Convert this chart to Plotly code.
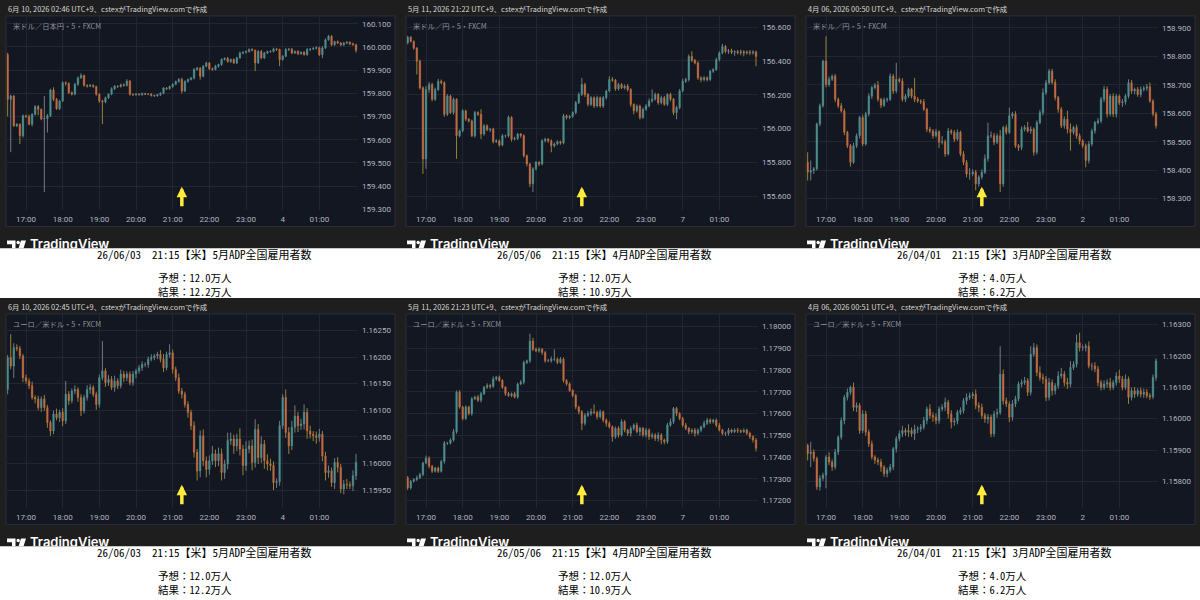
import math
import pandas as pd
import plotly.graph_objects as go

# ---------------- data ----------------
# 5-minute candles, first bar at 16:30 JST on each event day.
# close prices; wick lengths beyond the body (JPY in 0.001, EUR in 0.00001)

usdjpy_jun_start = "2026-06-03 16:30"
usdjpy_jun_open0 = 159.967
usdjpy_jun_close = [
    159.774, 159.789, 159.660, 159.667, 159.617, 159.703, 159.700, 159.667, 159.710, 159.743,
    159.731, 159.689, 159.691, 159.703, 159.814, 159.774, 159.734, 159.767, 159.846, 159.843,
    159.803, 159.796, 159.839, 159.867, 159.877, 159.834, 159.831, 159.834, 159.829, 159.796,
    159.767, 159.763, 159.781, 159.796, 159.820, 159.831, 159.829, 159.837, 159.834, 159.853,
    159.796, 159.794, 159.797, 159.794, 159.799, 159.796, 159.797, 159.791, 159.789, 159.794,
    159.800, 159.823, 159.820, 159.829, 159.839, 159.851, 159.860, 159.810, 159.851, 159.860,
    159.866, 159.903, 159.909, 159.874, 159.917, 159.931, 159.906, 159.903, 159.917, 159.924,
    159.946, 159.951, 159.937, 159.946, 159.931, 159.953, 159.974, 159.977, 159.980, 159.989,
    159.986, 159.931, 159.981, 159.953, 159.974, 159.980, 159.981, 159.991, 159.989, 159.946,
    159.960, 159.989, 159.991, 159.974, 159.981, 159.971, 159.977, 159.967, 159.989, 159.991,
    159.994, 159.997, 159.967, 159.996, 160.031, 160.046, 160.010, 160.023, 160.017, 160.009,
    160.017, 160.020, 160.014, 160.010, 159.986]
usdjpy_jun_upper = [
    8, 5, 3, 4, 3, 6, 5, 8, 4, 6,
    6, 4, 98, 8, 6, 12, 6, 5, 6, 5,
    4, 5, 6, 5, 10, 4, 5, 6, 5, 4,
    5, 6, 5, 4, 6, 5, 4, 5, 6, 8,
    5, 4, 3, 3, 4, 3, 3, 4, 3, 4,
    5, 4, 4, 5, 5, 4, 6, 8, 5, 4,
    5, 6, 5, 4, 5, 6, 4, 5, 6, 4,
    5, 4, 6, 4, 5, 5, 6, 4, 5, 5,
    6, 3, 5, 6, 5, 4, 5, 6, 5, 4,
    5, 6, 4, 5, 4, 5, 4, 5, 6, 4,
    5, 6, 4, 8, 6, 6, 5, 4, 5, 4,
    5, 6, 4, 5, 4]
usdjpy_jun_lower = [
    74, 228, 5, 6, 36, 8, 6, 5, 10, 6,
    25, 5, 315, 60, 5, 8, 5, 6, 5, 10,
    6, 5, 4, 6, 5, 5, 6, 4, 5, 6,
    8, 96, 6, 5, 4, 6, 5, 4, 5, 4,
    6, 5, 4, 3, 4, 3, 4, 5, 4, 3,
    6, 4, 5, 4, 5, 4, 5, 10, 4, 5,
    4, 6, 5, 15, 5, 4, 6, 5, 4, 6,
    5, 4, 5, 6, 4, 5, 4, 6, 5, 4,
    5, 35, 4, 6, 5, 4, 5, 4, 6, 29,
    5, 4, 6, 5, 4, 6, 5, 4, 5, 6,
    4, 5, 6, 15, 5, 4, 6, 5, 4, 5,
    4, 5, 6, 4, 10]

usdjpy_may_start = "2026-05-06 16:30"
usdjpy_may_open0 = 156.506
usdjpy_may_close = [
    156.541, 156.516, 156.476, 156.398, 156.241, 155.820, 156.231, 156.261, 156.173, 156.231,
    156.280, 156.271, 156.084, 156.192, 156.094, 156.173, 155.957, 155.986, 156.104, 156.055,
    156.045, 155.957, 156.094, 156.084, 155.967, 156.016, 155.992, 155.996, 155.922, 155.927,
    155.902, 155.957, 155.957, 156.065, 155.937, 155.941, 155.967, 155.957, 155.839, 155.790,
    155.673, 155.761, 155.800, 155.790, 155.927, 155.937, 155.927, 155.898, 155.908, 155.922,
    155.914, 156.075, 156.065, 156.071, 156.094, 156.153, 156.202, 156.261, 156.202, 156.143,
    156.182, 156.133, 156.182, 156.133, 156.182, 156.222, 156.290, 156.286, 156.235, 156.261,
    156.241, 156.251, 156.231, 156.143, 156.104, 156.133, 156.065, 156.114, 156.133, 156.163,
    156.173, 156.202, 156.153, 156.182, 156.143, 156.202, 156.173, 156.094, 156.124, 156.222,
    156.280, 156.290, 156.427, 156.404, 156.388, 156.300, 156.290, 156.300, 156.290, 156.339,
    156.349, 156.408, 156.447, 156.486, 156.457, 156.461, 156.451, 156.455, 156.449, 156.455,
    156.447, 156.453, 156.449, 156.453, 156.427]
usdjpy_may_upper = [
    8, 6, 5, 6, 10, 8, 20, 15, 10, 12,
    14, 10, 8, 12, 8, 10, 6, 8, 12, 8,
    6, 8, 10, 8, 30, 10, 8, 6, 8, 10,
    8, 10, 6, 12, 8, 10, 8, 6, 8, 6,
    6, 10, 8, 6, 10, 8, 6, 8, 10, 8,
    6, 12, 8, 10, 8, 10, 12, 39, 10, 8,
    10, 8, 12, 8, 10, 8, 20, 15, 8, 10,
    8, 10, 12, 8, 6, 10, 8, 10, 12, 15,
    58, 10, 8, 12, 10, 8, 10, 8, 10, 12,
    15, 10, 12, 30, 8, 10, 8, 10, 8, 10,
    8, 12, 10, 15, 8, 10, 12, 8, 10, 12,
    8, 10, 12, 10, 8]
usdjpy_may_lower = [
    8, 6, 10, 78, 10, 89, 59, 20, 12, 10,
    8, 10, 15, 10, 8, 12, 137, 10, 8, 12,
    10, 8, 12, 10, 30, 10, 8, 12, 10, 8,
    10, 8, 12, 10, 15, 8, 10, 12, 10, 15,
    20, 49, 10, 12, 8, 10, 12, 39, 10, 8,
    10, 8, 12, 10, 8, 10, 8, 10, 15, 12,
    10, 12, 8, 10, 12, 10, 8, 10, 12, 10,
    8, 10, 12, 15, 20, 10, 12, 8, 10, 8,
    10, 8, 12, 10, 8, 10, 12, 15, 39, 10,
    8, 10, 12, 10, 8, 12, 15, 10, 12, 8,
    10, 8, 10, 8, 12, 15, 10, 20, 10, 15,
    20, 10, 15, 12, 58]

usdjpy_apr_start = "2026-04-01 16:30"
usdjpy_apr_open0 = 158.428
usdjpy_apr_close = [
    158.393, 158.399, 158.405, 158.562, 158.626, 158.783, 158.701, 158.719, 158.730, 158.649,
    158.626, 158.608, 158.533, 158.486, 158.428, 158.486, 158.521, 158.585, 158.492, 158.597,
    158.660, 158.690, 158.698, 158.649, 158.628, 158.647, 158.649, 158.730, 158.678, 158.719,
    158.713, 158.649, 158.660, 158.684, 158.660, 158.649, 158.643, 158.640, 158.614, 158.544,
    158.538, 158.521, 158.535, 158.498, 158.500, 158.457, 158.538, 158.533, 158.509, 158.533,
    158.457, 158.428, 158.387, 158.387, 158.393, 158.352, 158.376, 158.393, 158.440, 158.521,
    158.521, 158.498, 158.521, 158.352, 158.550, 158.533, 158.591, 158.597, 158.486, 158.480,
    158.544, 158.550, 158.538, 158.544, 158.463, 158.567, 158.602, 158.672, 158.707, 158.748,
    158.709, 158.655, 158.614, 158.556, 158.579, 158.544, 158.533, 158.550, 158.521, 158.503,
    158.486, 158.434, 158.492, 158.538, 158.567, 158.573, 158.649, 158.684, 158.597, 158.660,
    158.597, 158.660, 158.637, 158.640, 158.660, 158.707, 158.678, 158.684, 158.666, 158.684,
    158.688, 158.693, 158.643, 158.597, 158.556]
usdjpy_apr_upper = [
    35, 35, 6, 5, 8, 5, 87, 10, 6, 8,
    6, 10, 8, 5, 6, 10, 8, 6, 10, 8,
    10, 6, 8, 15, 5, 8, 6, 10, 8, 58,
    6, 10, 8, 6, 5, 64, 8, 6, 10, 5,
    8, 6, 10, 5, 20, 8, 10, 6, 8, 10,
    6, 10, 8, 20, 10, 8, 6, 10, 15, 46,
    15, 10, 8, 20, 6, 10, 29, 8, 10, 6,
    10, 8, 20, 10, 6, 8, 10, 15, 10, 8,
    8, 10, 6, 8, 10, 30, 20, 6, 10, 8,
    6, 8, 10, 8, 6, 10, 8, 12, 10, 8,
    10, 8, 6, 10, 8, 12, 10, 6, 8, 10,
    8, 10, 15, 6, 8]
usdjpy_apr_lower = [
    29, 29, 12, 6, 8, 6, 10, 8, 6, 10,
    8, 6, 10, 8, 15, 6, 8, 10, 8, 6,
    8, 10, 6, 8, 10, 6, 8, 6, 10, 8,
    6, 8, 10, 6, 8, 10, 6, 8, 6, 10,
    8, 10, 6, 20, 8, 10, 6, 8, 10, 6,
    8, 10, 12, 20, 8, 23, 10, 8, 6, 10,
    8, 10, 6, 29, 10, 8, 6, 10, 8, 12,
    10, 8, 6, 10, 12, 8, 6, 10, 8, 6,
    8, 10, 12, 8, 10, 15, 64, 8, 10, 12,
    8, 24, 10, 8, 10, 6, 8, 10, 12, 8,
    10, 12, 8, 15, 10, 8, 10, 12, 8, 10,
    8, 10, 6, 8, 10]

eurusd_jun_start = "2026-06-03 16:30"
eurusd_jun_open0 = 1.16139
eurusd_jun_close = [
    1.16199, 1.16183, 1.16218, 1.16216, 1.16202, 1.16161, 1.16155, 1.16146, 1.16124, 1.16121,
    1.16105, 1.16121, 1.16105, 1.16077, 1.16061, 1.16093, 1.16086, 1.16096, 1.16080, 1.16130,
    1.16118, 1.16136, 1.16139, 1.16124, 1.16099, 1.16124, 1.16139, 1.16143, 1.16130, 1.16111,
    1.16161, 1.16174, 1.16152, 1.16158, 1.16143, 1.16155, 1.16146, 1.16168, 1.16161, 1.16168,
    1.16152, 1.16168, 1.16174, 1.16180, 1.16186, 1.16186, 1.16196, 1.16199, 1.16202, 1.16205,
    1.16196, 1.16180, 1.16205, 1.16208, 1.16177, 1.16161, 1.16136, 1.16130, 1.16111, 1.16096,
    1.16071, 1.16021, 1.15986, 1.16052, 1.16005, 1.15989, 1.16005, 1.16018, 1.16005, 1.16018,
    1.15983, 1.15999, 1.16043, 1.16046, 1.16033, 1.16046, 1.16027, 1.15996, 1.16027, 1.16033,
    1.16002, 1.16064, 1.16011, 1.16036, 1.16005, 1.15999, 1.15996, 1.15964, 1.15966, 1.16071,
    1.16124, 1.16058, 1.16033, 1.16068, 1.16089, 1.16071, 1.16074, 1.16096, 1.16061, 1.16055,
    1.16052, 1.16049, 1.16055, 1.16014, 1.15983, 1.15986, 1.15964, 1.16002, 1.15993, 1.15952,
    1.15961, 1.15960, 1.15958, 1.15977, 1.16002]
eurusd_jun_upper = [
    5, 44, 8, 6, 5, 4, 6, 5, 8, 4,
    6, 5, 8, 5, 4, 6, 10, 5, 8, 25,
    6, 5, 8, 4, 6, 5, 8, 6, 4, 5,
    6, 56, 5, 8, 6, 10, 5, 8, 6, 5,
    5, 6, 4, 5, 6, 4, 5, 6, 4, 5,
    8, 10, 5, 16, 6, 5, 8, 6, 5, 6,
    5, 8, 6, 10, 12, 8, 10, 15, 8, 12,
    10, 8, 15, 12, 8, 10, 20, 8, 15, 10,
    12, 19, 10, 15, 8, 12, 10, 8, 6, 9,
    6, 15, 10, 12, 20, 8, 10, 15, 8, 10,
    6, 8, 10, 6, 8, 10, 6, 8, 10, 6,
    8, 10, 6, 10, 16]
eurusd_jun_lower = [
    9, 6, 22, 5, 6, 8, 5, 6, 4, 8,
    5, 8, 6, 10, 9, 6, 5, 8, 10, 6,
    8, 5, 6, 8, 10, 5, 6, 8, 5, 10,
    6, 5, 8, 6, 5, 8, 6, 5, 8, 6,
    5, 6, 8, 5, 6, 5, 6, 4, 5, 6,
    6, 8, 5, 6, 8, 6, 5, 8, 6, 10,
    8, 10, 18, 12, 10, 15, 10, 8, 12, 10,
    15, 12, 10, 8, 15, 10, 12, 18, 10, 8,
    15, 10, 12, 10, 15, 12, 10, 14, 10, 8,
    6, 10, 15, 8, 10, 12, 8, 10, 15, 8,
    10, 12, 8, 10, 15, 10, 8, 12, 10, 8,
    10, 8, 6, 10, 8]

eurusd_may_start = "2026-05-06 16:30"
eurusd_may_open0 = 1.17305
eurusd_may_close = [
    1.17259, 1.17289, 1.17297, 1.17305, 1.17320, 1.17373, 1.17395, 1.17358, 1.17335, 1.17350,
    1.17335, 1.17380, 1.17464, 1.17464, 1.17479, 1.17517, 1.17698, 1.17630, 1.17577, 1.17630,
    1.17600, 1.17668, 1.17676, 1.17661, 1.17691, 1.17721, 1.17729, 1.17724, 1.17759, 1.17767,
    1.17752, 1.17721, 1.17691, 1.17683, 1.17691, 1.17676, 1.17736, 1.17744, 1.17835, 1.17842,
    1.17933, 1.17895, 1.17888, 1.17895, 1.17880, 1.17842, 1.17842, 1.17850, 1.17850, 1.17835,
    1.17850, 1.17752, 1.17736, 1.17706, 1.17683, 1.17630, 1.17608, 1.17555, 1.17592, 1.17600,
    1.17608, 1.17605, 1.17585, 1.17608, 1.17570, 1.17555, 1.17539, 1.17494, 1.17532, 1.17502,
    1.17562, 1.17524, 1.17509, 1.17532, 1.17547, 1.17517, 1.17532, 1.17502, 1.17524, 1.17494,
    1.17502, 1.17486, 1.17502, 1.17479, 1.17471, 1.17547, 1.17562, 1.17623, 1.17600, 1.17577,
    1.17547, 1.17532, 1.17517, 1.17524, 1.17509, 1.17524, 1.17539, 1.17555, 1.17570, 1.17562,
    1.17570, 1.17547, 1.17524, 1.17509, 1.17509, 1.17524, 1.17517, 1.17524, 1.17521, 1.17517,
    1.17524, 1.17509, 1.17494, 1.17479, 1.17441]
eurusd_may_upper = [
    8, 6, 5, 10, 8, 6, 12, 8, 6, 5,
    6, 8, 10, 6, 8, 12, 8, 10, 6, 8,
    6, 8, 6, 10, 8, 6, 10, 8, 12, 6,
    8, 6, 5, 8, 6, 8, 6, 10, 8, 6,
    34, 15, 8, 10, 6, 8, 10, 12, 45, 8,
    10, 8, 6, 8, 6, 8, 6, 8, 10, 12,
    15, 34, 8, 10, 6, 8, 10, 6, 8, 10,
    12, 8, 6, 10, 8, 12, 8, 6, 10, 8,
    10, 8, 12, 8, 6, 10, 15, 7, 8, 6,
    8, 10, 6, 8, 10, 8, 6, 12, 10, 8,
    6, 8, 10, 6, 8, 10, 6, 8, 10, 6,
    8, 6, 8, 6, 8]
eurusd_may_lower = [
    10, 8, 6, 8, 6, 8, 6, 10, 8, 6,
    8, 6, 10, 8, 6, 8, 10, 8, 8, 6,
    8, 10, 6, 8, 10, 6, 8, 10, 6, 8,
    6, 8, 10, 6, 8, 6, 8, 6, 10, 8,
    10, 8, 6, 8, 10, 8, 6, 8, 10, 8,
    6, 10, 8, 6, 8, 10, 12, 31, 10, 8,
    10, 8, 12, 8, 10, 15, 8, 23, 10, 12,
    8, 10, 12, 15, 10, 8, 20, 10, 12, 15,
    10, 12, 15, 20, 12, 10, 8, 10, 12, 8,
    10, 8, 12, 10, 15, 8, 10, 6, 8, 10,
    8, 10, 6, 8, 12, 10, 8, 6, 10, 8,
    6, 8, 10, 12, 15]

eurusd_apr_start = "2026-04-01 16:30"
eurusd_apr_open0 = 1.15915
eurusd_apr_close = [
    1.15889, 1.15894, 1.15873, 1.15783, 1.15810, 1.15820, 1.15878, 1.15862, 1.15846, 1.15894,
    1.15941, 1.15994, 1.16068, 1.16084, 1.16100, 1.16036, 1.16042, 1.15962, 1.16015, 1.15957,
    1.15920, 1.15878, 1.15868, 1.15862, 1.15846, 1.15825, 1.15836, 1.15846, 1.15904, 1.15936,
    1.15952, 1.15962, 1.15957, 1.15962, 1.15952, 1.15966, 1.15968, 1.15973, 1.15994, 1.16031,
    1.16010, 1.16005, 1.15994, 1.16031, 1.16036, 1.16052, 1.16015, 1.15989, 1.15992, 1.16020,
    1.16026, 1.16057, 1.16068, 1.16073, 1.16078, 1.16042, 1.16036, 1.16010, 1.15999, 1.16005,
    1.15952, 1.16015, 1.16020, 1.16142, 1.16057, 1.16047, 1.16005, 1.16047, 1.16063, 1.16110,
    1.16115, 1.16121, 1.16084, 1.16205, 1.16226, 1.16147, 1.16131, 1.16126, 1.16068, 1.16115,
    1.16089, 1.16105, 1.16136, 1.16142, 1.16115, 1.16110, 1.16163, 1.16173, 1.16242, 1.16226,
    1.16226, 1.16231, 1.16168, 1.16168, 1.16158, 1.16115, 1.16100, 1.16110, 1.16115, 1.16100,
    1.16115, 1.16136, 1.16126, 1.16100, 1.16126, 1.16068, 1.16089, 1.16078, 1.16089, 1.16078,
    1.16084, 1.16073, 1.16070, 1.16131, 1.16184]
eurusd_apr_upper = [
    5, 32, 8, 6, 10, 8, 6, 15, 8, 10,
    6, 10, 8, 12, 5, 15, 10, 8, 12, 10,
    8, 10, 6, 8, 10, 6, 8, 10, 6, 8,
    10, 15, 8, 20, 10, 15, 8, 10, 12, 8,
    15, 10, 12, 8, 10, 15, 8, 12, 10, 8,
    10, 8, 12, 10, 8, 15, 10, 12, 8, 10,
    8, 10, 12, 89, 15, 10, 8, 12, 10, 8,
    10, 12, 8, 26, 15, 10, 20, 12, 10, 15,
    10, 8, 15, 20, 10, 15, 20, 10, 26, 32,
    10, 8, 15, 10, 12, 10, 8, 12, 10, 15,
    8, 12, 20, 10, 15, 8, 10, 12, 8, 10,
    12, 10, 8, 10, 8]
eurusd_apr_lower = [
    22, 43, 10, 10, 12, 8, 42, 10, 12, 8,
    10, 8, 12, 10, 8, 12, 15, 10, 8, 12,
    10, 8, 12, 10, 15, 10, 12, 8, 10, 12,
    8, 10, 12, 15, 10, 20, 12, 10, 8, 12,
    10, 15, 12, 10, 8, 12, 15, 20, 12, 10,
    8, 10, 12, 8, 10, 12, 15, 10, 12, 15,
    11, 10, 12, 8, 12, 10, 16, 12, 10, 8,
    10, 8, 12, 10, 8, 12, 10, 15, 12, 10,
    15, 12, 10, 8, 12, 15, 10, 8, 10, 12,
    10, 12, 8, 15, 10, 12, 10, 8, 12, 10,
    8, 10, 12, 10, 8, 21, 10, 12, 8, 10,
    12, 8, 10, 8, 10]

usdjpy_jun_ticks = [159.3, 159.4, 159.5, 159.6, 159.7, 159.8, 159.9, 160.0, 160.1]
usdjpy_may_ticks = [155.6, 155.8, 156.0, 156.2, 156.4, 156.6]
usdjpy_apr_ticks = [158.3, 158.4, 158.5, 158.6, 158.7, 158.8, 158.9]
eurusd_jun_ticks = [1.1595, 1.1600, 1.1605, 1.1610, 1.1615, 1.1620, 1.1625]
eurusd_may_ticks = [1.172, 1.173, 1.174, 1.175, 1.176, 1.177, 1.178, 1.179, 1.180]
eurusd_apr_ticks = [1.158, 1.159, 1.160, 1.161, 1.162, 1.163]

header_texts = [
    "6月 10, 2026 02:46 UTC+9、cstexがTradingView.comで作成",
    "5月 11, 2026 21:22 UTC+9、cstexがTradingView.comで作成",
    "4月 06, 2026 00:50 UTC+9、cstexがTradingView.comで作成",
    "6月 10, 2026 02:45 UTC+9、cstexがTradingView.comで作成",
    "5月 11, 2026 21:23 UTC+9、cstexがTradingView.comで作成",
    "4月 06, 2026 00:51 UTC+9、cstexがTradingView.comで作成",
]
symbol_texts = [
    "米ドル／日本円・5・FXCM", "米ドル／円・5・FXCM", "米ドル／円・5・FXCM",
    "ユーロ／米ドル・5・FXCM", "ユーロ／米ドル・5・FXCM", "ユーロ／米ドル・5・FXCM",
]
event_lines = [
    "26/06/03　21:15【米】5月ADP全国雇用者数",
    "26/05/06　21:15【米】4月ADP全国雇用者数",
    "26/04/01　21:15【米】3月ADP全国雇用者数",
]
forecast_lines = ["予想：12.0万人", "予想：12.0万人", "予想：4.0万人"]
result_lines = ["結果：12.2万人", "結果：10.9万人", "結果：6.2万人"]
event_times = ["2026-06-03 21:15", "2026-05-06 21:15", "2026-04-01 21:15"]
midnight_labels = ["4", "7", "2"]

# ---------------- styling ----------------
W, H = 1200, 600
UP, DOWN = "#26a69a", "#ef5350"
UP_WICK, DOWN_WICK = "#767a84", "#948532"
GRID = "#222633"
TICK = "#b2b5be"
OUTER = "#1e1e1e"
PANE = "#131722"
FONT_UI = "Noto Sans CJK JP"
FONT_CAP = "Noto Sans Mono CJK JP, Noto Sans CJK JP"


def px(x):
    return x / W


def py(y):
    return 1 - y / H


panels = [
    dict(start=usdjpy_jun_start, open0=usdjpy_jun_open0, close=usdjpy_jun_close,
         upper=usdjpy_jun_upper, lower=usdjpy_jun_lower, unit=0.001,
         ticks=usdjpy_jun_ticks, fmt="{:.3f}", yr=[159.2985, 160.132], col=0, row=0, ev=0),
    dict(start=usdjpy_may_start, open0=usdjpy_may_open0, close=usdjpy_may_close,
         upper=usdjpy_may_upper, lower=usdjpy_may_lower, unit=0.001,
         ticks=usdjpy_may_ticks, fmt="{:.3f}", yr=[155.5196, 156.664], col=1, row=0, ev=1),
    dict(start=usdjpy_apr_start, open0=usdjpy_apr_open0, close=usdjpy_apr_close,
         upper=usdjpy_apr_upper, lower=usdjpy_apr_lower, unit=0.001,
         ticks=usdjpy_apr_ticks, fmt="{:.3f}", yr=[158.2617, 158.940], col=2, row=0, ev=2),
    dict(start=eurusd_jun_start, open0=eurusd_jun_open0, close=eurusd_jun_close,
         upper=eurusd_jun_upper, lower=eurusd_jun_lower, unit=0.00001,
         ticks=eurusd_jun_ticks, fmt="{:.5f}", yr=[1.159170, 1.162802], col=0, row=1, ev=0),
    dict(start=eurusd_may_start, open0=eurusd_may_open0, close=eurusd_may_close,
         upper=eurusd_may_upper, lower=eurusd_may_lower, unit=0.00001,
         ticks=eurusd_may_ticks, fmt="{:.5f}", yr=[1.171681, 1.180555], col=1, row=1, ev=1),
    dict(start=eurusd_apr_start, open0=eurusd_apr_open0, close=eurusd_apr_close,
         upper=eurusd_apr_upper, lower=eurusd_apr_lower, unit=0.00001,
         ticks=eurusd_apr_ticks, fmt="{:.5f}", yr=[1.157167, 1.163322], col=2, row=1, ev=2),
]

fig = go.Figure()
shapes = []
annotations = []
layout_axes = {}

# outer dark background for both rows
for r in range(2):
    oy = 300 * r
    shapes.append(dict(type="rect", xref="paper", yref="paper", x0=0, x1=1,
                       y0=py(oy + 250), y1=py(oy), fillcolor=OUTER, line_width=0, layer="below"))

for k, p in enumerate(panels, start=1):
    ox, oy = 400 * p["col"], 300 * p["row"]
    xn = "x" if k == 1 else f"x{k}"
    yn = "y" if k == 1 else f"y{k}"
    xl = "xaxis" if k == 1 else f"xaxis{k}"
    yl = "yaxis" if k == 1 else f"yaxis{k}"

    n = len(p["close"])
    times = pd.date_range(p["start"], periods=n, freq="5min")
    opens = [p["open0"]] + p["close"][:-1]
    closes = p["close"]
    body_hi = [max(o, c) for o, c in zip(opens, closes)]
    body_lo = [min(o, c) for o, c in zip(opens, closes)]
    wick_hi = [b + u * p["unit"] for b, u in zip(body_hi, p["upper"])]
    wick_lo = [b - l * p["unit"] for b, l in zip(body_lo, p["lower"])]

    for want_up, color in ((True, UP_WICK), (False, DOWN_WICK)):
        wx, wy = [], []
        for t, o, c, hi, lo in zip(times, opens, closes, wick_hi, wick_lo):
            if (c >= o) == want_up:
                wx += [t, t, None]
                wy += [lo, hi, None]
        fig.add_trace(go.Scatter(x=wx, y=wy, mode="lines", xaxis=xn, yaxis=yn,
                                 line=dict(color=color, width=1), hoverinfo="skip"))

    fig.add_trace(go.Candlestick(
        x=times, open=opens, high=body_hi, low=body_lo, close=closes,
        xaxis=xn, yaxis=yn, whiskerwidth=0,
        increasing=dict(fillcolor=UP, line=dict(color=UP, width=0.5)),
        decreasing=dict(fillcolor=DOWN, line=dict(color=DOWN, width=0.5)),
        hoverinfo="skip"))

    # chart pane box
    shapes.append(dict(type="rect", xref="paper", yref="paper",
                       x0=px(ox + 6), x1=px(ox + 395), y0=py(oy + 228), y1=py(oy + 16),
                       fillcolor=PANE, line=dict(color="#2a2e39", width=1), layer="below"))

    day0 = times[0].normalize()
    hour_vals = list(pd.date_range(day0 + pd.Timedelta(hours=17), periods=9, freq="h"))
    hour_text = [t.strftime("%H:%M") for t in hour_vals]
    hour_text[7] = midnight_labels[p["ev"]]
    x_lo = day0 + pd.Timedelta(hours=16, minutes=28, seconds=5)
    x_hi = day0 + pd.Timedelta(hours=26, minutes=3, seconds=15)

    layout_axes[xl] = dict(
        domain=[px(ox + 6.5), px(ox + 358)], range=[x_lo, x_hi], type="date",
        anchor=yn, tickvals=hour_vals, ticktext=hour_text, ticks="",
        ticklabelstandoff=3, showgrid=True, gridcolor=GRID, gridwidth=1,
        zeroline=False, showline=False, fixedrange=True,
        tickfont=dict(family="Roboto", size=8, color=TICK),
        rangeslider=dict(visible=False))
    layout_axes[yl] = dict(
        domain=[py(oy + 211), py(oy + 16.5)], range=p["yr"], side="right", anchor=xn,
        tickvals=p["ticks"], ticktext=[p["fmt"].format(v) for v in p["ticks"]],
        ticks="", ticklabelstandoff=3, showgrid=True, gridcolor=GRID, gridwidth=1,
        zeroline=False, showline=False, fixedrange=True,
        tickfont=dict(family="Roboto", size=8, color=TICK))

    # header, symbol label, event arrow
    annotations.append(dict(xref="paper", yref="paper", x=px(ox + 6), y=py(oy + 8.5),
                            xanchor="left", yanchor="middle", showarrow=False,
                            text=header_texts[k - 1],
                            font=dict(family=FONT_UI, size=7.4, color="#d6d6d6")))
    annotations.append(dict(xref="paper", yref="paper", x=px(ox + 11), y=py(oy + 26),
                            xanchor="left", yanchor="middle", showarrow=False,
                            text=symbol_texts[k - 1],
                            font=dict(family=FONT_UI, size=7.3, color="#8f929c")))
    annotations.append(dict(xref=xn, yref=f"{yn} domain", x=event_times[p["ev"]],
                            y=(211 - 188) / 194.5, text="", showarrow=True,
                            ax=0, ay=21, arrowhead=2, arrowwidth=3.5, arrowsize=0.6,
                            arrowcolor="#ffeb3b", standoff=0, startstandoff=0))

    # captions under each chart
    annotations.append(dict(xref="paper", yref="paper", x=px(ox + 95), y=py(oy + 256),
                            xanchor="left", yanchor="middle", showarrow=False,
                            text=event_lines[p["ev"]],
                            font=dict(family=FONT_CAP, size=11, color="#000000")))
    annotations.append(dict(xref="paper", yref="paper", x=px(ox + 157), y=py(oy + 286.5),
                            xanchor="left", yanchor="middle", showarrow=False, align="left",
                            borderpad=0,
                            text=forecast_lines[p["ev"]] + "<br>" + result_lines[p["ev"]],
                            font=dict(family=FONT_CAP, size=10.5, color="#000000")))

# TradingView wordmarks, clipped at the white caption band (pixel-space overlay axes)
for r in range(2):
    oy = 300 * r
    xn, yn = f"x{7 + r}", f"y{7 + r}"
    layout_axes[f"xaxis{7 + r}"] = dict(domain=[0, 1], range=[0, W], visible=False,
                                         anchor=yn, fixedrange=True)
    layout_axes[f"yaxis{7 + r}"] = dict(domain=[py(oy + 250), py(oy + 230)],
                                         range=[oy + 250, oy + 230], visible=False,
                                         anchor=xn, fixedrange=True)
    for c in range(3):
        ox = 400 * c
        fig.add_trace(go.Scatter(
            x=[ox + 7, ox + 15.5, ox + 15.5, ox + 12, ox + 12, ox + 7, ox + 7],
            y=[oy + 242, oy + 242, oy + 258, oy + 258, oy + 246, oy + 246, oy + 242],
            mode="lines", fill="toself", fillcolor="#ffffff", line=dict(width=0),
            xaxis=xn, yaxis=yn, hoverinfo="skip"))
        ang = [i * 2 * math.pi / 16 for i in range(17)]
        fig.add_trace(go.Scatter(
            x=[ox + 18.2 + 1.8 * math.cos(a) for a in ang],
            y=[oy + 244.2 + 1.8 * math.sin(a) for a in ang],
            mode="lines", fill="toself", fillcolor="#ffffff", line=dict(width=0),
            xaxis=xn, yaxis=yn, hoverinfo="skip"))
        fig.add_trace(go.Scatter(
            x=[ox + 21, ox + 26, ox + 21, ox + 16, ox + 21],
            y=[oy + 242, oy + 242, oy + 258, oy + 258, oy + 242],
            mode="lines", fill="toself", fillcolor="#ffffff", line=dict(width=0),
            xaxis=xn, yaxis=yn, hoverinfo="skip"))
        fig.add_trace(go.Scatter(
            x=[ox + 30], y=[oy + 247], mode="text", text=["TradingView"],
            textposition="middle right", cliponaxis=True,
            textfont=dict(family="Inter", size=13, color="#ffffff", weight=600),
            xaxis=xn, yaxis=yn, hoverinfo="skip"))

fig.update_layout(
    width=W, height=H, margin=dict(l=0, r=0, t=0, b=0, pad=0),
    paper_bgcolor="#ffffff", plot_bgcolor="rgba(0,0,0,0)",
    showlegend=False, hovermode=False,
    shapes=shapes, annotations=annotations, **layout_axes)

fig.write_html("out.html", config={"displayModeBar": False})
